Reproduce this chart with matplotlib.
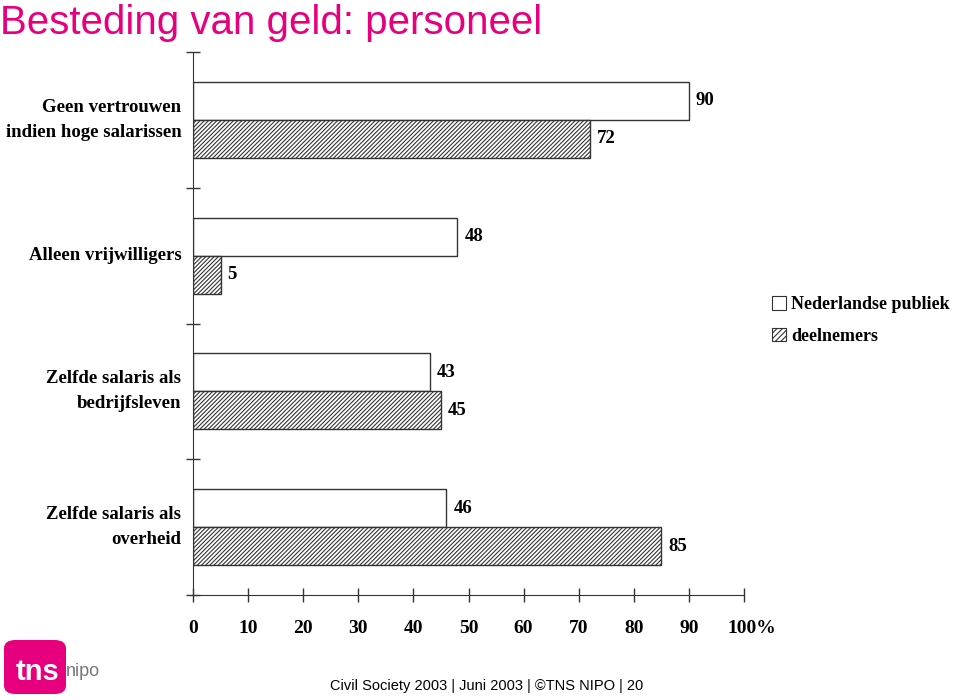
import numpy as np
import matplotlib.pyplot as plt
import matplotlib.transforms as mtransforms
from matplotlib.patches import Patch, FancyBboxPatch

plt.rcParams['hatch.linewidth'] = 0.8
plt.rcParams['hatch.color'] = '#222222'

categories = ['Geen vertrouwen\nindien hoge salarissen',
              'Alleen vrijwilligers',
              'Zelfde salaris als\nbedrijfsleven',
              'Zelfde salaris als\noverheid']
publiek = [90, 48, 43, 46]
deelnemers = [72, 5, 45, 85]
series_names = ['Nederlandse publiek', 'deelnemers']
xticks = [0, 10, 20, 30, 40, 50, 60, 70, 80, 90, 100]
xtick_labels = ['0', '10', '20', '30', '40', '50', '60', '70', '80', '90', '100%']

serif = 'Liberation Serif'
pink = '#E6007E'

fig = plt.figure(figsize=(9.6, 7), dpi=100)
ax = fig.add_axes([193 / 960, 1 - 595 / 700, 551 / 960, 543 / 700])

y = np.arange(len(categories))
h = 0.28
ax.barh(y - h / 2, publiek, height=h, color='white', edgecolor='#333333', linewidth=1)
ax.barh(y + h / 2, deelnemers, height=h, color='white', edgecolor='#333333',
        linewidth=1, hatch='////////')

for i in range(len(categories)):
    ax.annotate(str(publiek[i]), (publiek[i], y[i] - h / 2), xytext=(5, 0),
                textcoords='offset points', va='center', ha='left',
                family=serif, fontsize=13.5, fontweight='bold')
    ax.annotate(str(deelnemers[i]), (deelnemers[i], y[i] + h / 2), xytext=(5, 0),
                textcoords='offset points', va='center', ha='left',
                family=serif, fontsize=13.5, fontweight='bold')
    ax.text(-2.1, y[i], categories[i], ha='right', va='center', family=serif,
            fontsize=13.5, fontweight='bold', linespacing=1.6)

ax.set_xlim(0, 100)
ax.set_ylim(len(categories) - 0.5, -0.5)
ax.set_yticks([])
ax.set_yticks(np.arange(-0.5, len(categories)), minor=True)
ax.tick_params(axis='y', which='minor', direction='inout', length=10, width=1,
               color='#333333', labelleft=False)
ax.set_xticks(xticks)
ax.set_xticklabels(xtick_labels, family=serif, fontsize=14, fontweight='bold')
ax.tick_params(axis='x', direction='inout', length=10, width=1, color='#333333', pad=13)
# keep the number part of "100%" centred on its tick
last = ax.get_xticklabels()[-1]
last.set_transform(last.get_transform() +
                   mtransforms.ScaledTranslation(8 / 100, 0, fig.dpi_scale_trans))
for s in ['top', 'right']:
    ax.spines[s].set_visible(False)
for s in ['left', 'bottom']:
    ax.spines[s].set_color('#333333')

handles = [Patch(facecolor='white', edgecolor='#333333', linewidth=0.8),
           Patch(facecolor='white', edgecolor='#333333', linewidth=0.8, hatch='//////')]
fig.legend(handles, series_names, loc='upper left', bbox_to_anchor=(772 / 960, 1 - 296 / 700),
           frameon=False, prop={'family': serif, 'size': 13, 'weight': 'bold'},
           handlelength=0.8, handleheight=0.8, handletextpad=0.25, labelspacing=0.8,
           borderaxespad=0, borderpad=0)

fig.text(0.0, 1 - 4 / 700, 'Besteding van geld: personeel', color=pink, ha='left', va='top',
         family='Liberation Sans', fontsize=29)

fig.text(487 / 960, 1 - 686 / 700, 'Civil Society 2003 | Juni 2003 | ©TNS NIPO | 20',
         ha='center', va='center', family='Liberation Sans', fontsize=10.5)

# logo
fig.patches.append(FancyBboxPatch((4 / 960, 6 / 700), 62 / 960, 54 / 700,
                                  boxstyle='round,pad=0,rounding_size=0.012',
                                  transform=fig.transFigure, facecolor=pink,
                                  edgecolor='none'))
fig.text(16 / 960, 28 / 700, 'tns', color='white', fontsize=21, fontweight='bold',
         family='Liberation Sans', ha='left', va='center')
fig.text(66 / 960, 28 / 700, 'nipo', color='#777777', fontsize=13,
         family='Liberation Sans', ha='left', va='center')

fig.savefig('out.png', dpi=100)
